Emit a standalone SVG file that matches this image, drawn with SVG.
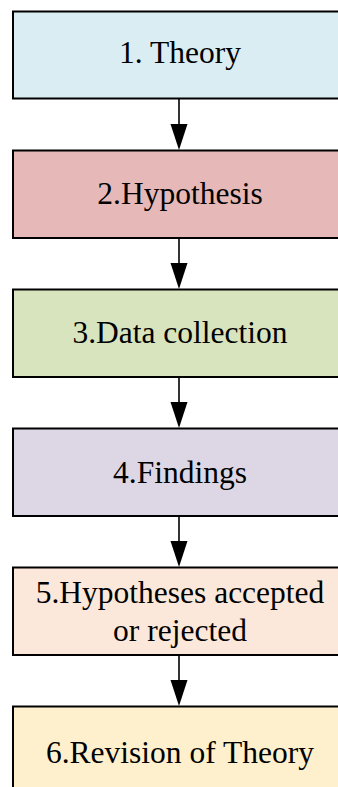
<svg xmlns="http://www.w3.org/2000/svg" width="338" height="787" viewBox="0 0 338 787">
  <style>
    .box { stroke: #000; stroke-width: 2; }
    .label { font-family: "Liberation Serif", "Times New Roman", "DejaVu Serif", serif; font-size: 31.5px; fill: #000; text-anchor: middle; }
    .edge { stroke: #000; stroke-width: 1.6; fill: none; }
    .head { fill: #000; }
  </style>
  <rect width="338" height="787" fill="#fff"/>

  <g id="connectors">
    <line class="edge" x1="179" y1="99" x2="179" y2="126"/>
    <polygon class="head" points="170.5,124 187.5,124 179,150"/>
    <line class="edge" x1="179" y1="238" x2="179" y2="265"/>
    <polygon class="head" points="170.5,263 187.5,263 179,289"/>
    <line class="edge" x1="179" y1="377" x2="179" y2="404"/>
    <polygon class="head" points="170.5,402 187.5,402 179,428"/>
    <line class="edge" x1="179" y1="516" x2="179" y2="543"/>
    <polygon class="head" points="170.5,541 187.5,541 179,567"/>
    <line class="edge" x1="179" y1="655" x2="179" y2="682"/>
    <polygon class="head" points="170.5,680 187.5,680 179,706"/>
  </g>

  <g id="theory">
    <rect class="box" x="13" y="11.5" width="340" height="87" fill="#DAEDF3"/>
    <text class="label" x="180" y="63">1. Theory</text>
  </g>
  <g id="hypothesis">
    <rect class="box" x="13" y="150.5" width="340" height="87.5" fill="#E6B9B8"/>
    <text class="label" x="180" y="204">2.Hypothesis</text>
  </g>
  <g id="data-collection">
    <rect class="box" x="13" y="289.5" width="340" height="87.5" fill="#D7E4BD"/>
    <text class="label" x="180" y="343">3.Data collection</text>
  </g>
  <g id="findings">
    <rect class="box" x="13" y="428.5" width="340" height="87.5" fill="#DDD7E5"/>
    <text class="label" x="180" y="483">4.Findings</text>
  </g>
  <g id="hypotheses-outcome">
    <rect class="box" x="13" y="567.5" width="340" height="87.5" fill="#FCE8DA"/>
    <text class="label" x="180" y="603">5.Hypotheses accepted</text>
    <text class="label" x="180" y="641">or rejected</text>
  </g>
  <g id="revision">
    <rect class="box" x="13" y="706.5" width="340" height="100" fill="#FEF0CD"/>
    <text class="label" x="180" y="763">6.Revision of Theory</text>
  </g>
</svg>
